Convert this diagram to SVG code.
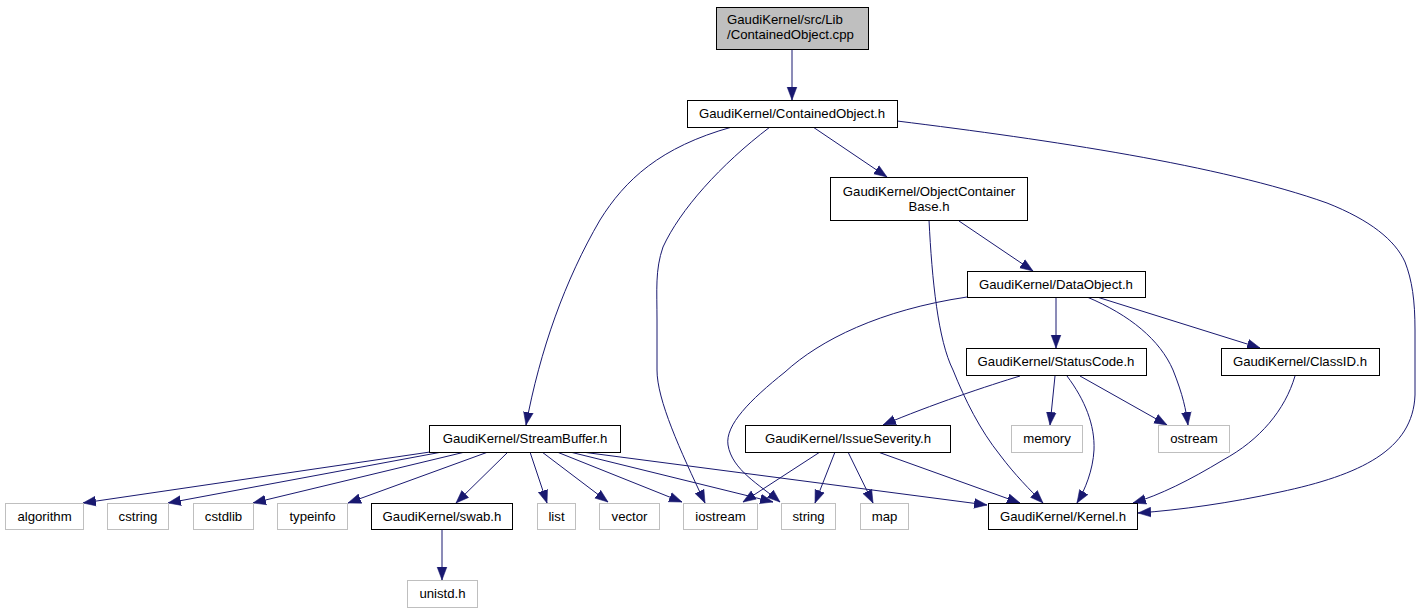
<svg xmlns="http://www.w3.org/2000/svg" width="1421" height="613" viewBox="0 0 1421 613">
<style>
.n rect{fill:#fff;stroke:#000;stroke-width:1}
.x rect{fill:#fff;stroke:#bfbfbf;stroke-width:1}
.r rect{fill:#bfbfbf;stroke:#000;stroke-width:1}
text{font-family:"Liberation Sans",Arial,sans-serif;font-size:13.2px;fill:#000;text-anchor:middle}
#edges path{fill:none;stroke:#191970;stroke-width:1;marker-end:url(#ah)}
</style>
<defs>
<marker id="ah" markerUnits="userSpaceOnUse" markerWidth="14" markerHeight="12" viewBox="0 -5 13 10" refX="12" refY="0" orient="auto">
<path d="M0,-4.5 L12,0 L0,4.5 z" fill="#191970" stroke="#191970" stroke-width="0.5"/>
</marker>
</defs>
<rect width="1421" height="613" fill="#fff"/>
<g id="edges">
<path d="M792,49 L792,100"/>
<path d="M732,127 C660,147 625,180 600,220 C565,280 540,350 526,425"/>
<path d="M770,127 C720,165 680,210 663,247 C655,270 657,290 657,320 L657,370 C657,400 680,450 705,503"/>
<path d="M813,127 L887,177"/>
<path d="M897,121 C1050,140 1220,165 1327,203 C1370,220 1395,240 1405,262 C1412,280 1415,300 1415,330 L1415,395 C1413,450 1360,475 1280,492 C1230,503 1180,510 1138,513"/>
<path d="M959,221 L1033,271"/>
<path d="M929,220 C932,280 938,340 953,370 C965,400 980,430 1000,455 C1015,475 1030,490 1043,503"/>
<path d="M1056,297 L1056,348"/>
<path d="M967,297 C880,310 820,340 785,372 C750,400 725,425 728,445 C732,470 760,485 780,502"/>
<path d="M1087,297 C1130,315 1160,340 1173,370 C1183,395 1186,410 1188,425"/>
<path d="M1097,297 L1260,348"/>
<path d="M1020,376 C990,385 930,405 883,425"/>
<path d="M1055,376 L1050,425"/>
<path d="M1067,376 C1085,400 1095,425 1094,450 C1093,470 1085,490 1077,503"/>
<path d="M1080,376 L1167,425"/>
<path d="M1295,376 C1285,410 1260,440 1223,460 C1190,480 1160,495 1133,503"/>
<path d="M820,452 L743,502"/>
<path d="M835,452 L815,503"/>
<path d="M848,452 L873,503"/>
<path d="M878,452 L1020,503"/>
<path d="M430,452 L83,503"/>
<path d="M442,452 L168,503"/>
<path d="M465,452 L253,503"/>
<path d="M488,452 L348,503"/>
<path d="M508,452 L456,503"/>
<path d="M442,529 L442,580"/>
<path d="M530,452 L547,503"/>
<path d="M542,452 L608,502"/>
<path d="M557,452 L682,502"/>
<path d="M570,452 L773,502"/>
<path d="M582,452 L987,505"/>
</g>
<g id="n_cpp" class="r"><rect x="716.5" y="7.5" width="152" height="42"/><text x="727" y="24" style="text-anchor:start">GaudiKernel/src/Lib</text><text x="727" y="39" style="text-anchor:start">/ContainedObject.cpp</text></g>
<g id="n_co" class="n"><rect x="687.5" y="100.5" width="210" height="27"/><text x="792" y="118">GaudiKernel/ContainedObject.h</text></g>
<g id="n_ocb" class="n"><rect x="830.5" y="177.5" width="197" height="43"/><text x="929" y="196">GaudiKernel/ObjectContainer</text><text x="929" y="211">Base.h</text></g>
<g id="n_do" class="n"><rect x="967.5" y="271.5" width="178" height="26"/><text x="1056" y="289">GaudiKernel/DataObject.h</text></g>
<g id="n_sc" class="n"><rect x="966.5" y="348.5" width="180" height="27"/><text x="1056" y="366">GaudiKernel/StatusCode.h</text></g>
<g id="n_cid" class="n"><rect x="1221.5" y="348.5" width="158" height="27"/><text x="1300" y="366">GaudiKernel/ClassID.h</text></g>
<g id="n_mem" class="x"><rect x="1011.5" y="425.5" width="71" height="27"/><text x="1047" y="443">memory</text></g>
<g id="n_ost" class="x"><rect x="1158.5" y="425.5" width="71" height="27"/><text x="1194" y="443">ostream</text></g>
<g id="n_ker" class="n"><rect x="988.5" y="503.5" width="149" height="26"/><text x="1063" y="521">GaudiKernel/Kernel.h</text></g>
<g id="n_sb" class="n"><rect x="429.5" y="425.5" width="191" height="27"/><text x="525" y="443">GaudiKernel/StreamBuffer.h</text></g>
<g id="n_is" class="n"><rect x="745.5" y="425.5" width="205" height="27"/><text x="848" y="443">GaudiKernel/IssueSeverity.h</text></g>
<g id="n_list" class="x"><rect x="537.5" y="503.5" width="38" height="26"/><text x="556.5" y="521">list</text></g>
<g id="n_vec" class="x"><rect x="599.5" y="503.5" width="60" height="26"/><text x="629.5" y="521">vector</text></g>
<g id="n_ios" class="x"><rect x="683.5" y="503.5" width="74" height="26"/><text x="720.5" y="521">iostream</text></g>
<g id="n_str" class="x"><rect x="781.5" y="503.5" width="54" height="26"/><text x="808.5" y="521">string</text></g>
<g id="n_map" class="x"><rect x="860.5" y="503.5" width="48" height="26"/><text x="884.5" y="521">map</text></g>
<g id="n_alg" class="x"><rect x="5.5" y="503.5" width="78" height="26"/><text x="44.5" y="521">algorithm</text></g>
<g id="n_cstr" class="x"><rect x="107.5" y="503.5" width="61" height="26"/><text x="138" y="521">cstring</text></g>
<g id="n_cstd" class="x"><rect x="193.5" y="503.5" width="60" height="26"/><text x="223.5" y="521">cstdlib</text></g>
<g id="n_ti" class="x"><rect x="277.5" y="503.5" width="70" height="26"/><text x="312.5" y="521">typeinfo</text></g>
<g id="n_swab" class="n"><rect x="371.5" y="503.5" width="141" height="26"/><text x="442" y="521">GaudiKernel/swab.h</text></g>
<g id="n_uni" class="x"><rect x="407.5" y="580.5" width="70" height="27"/><text x="442.5" y="598">unistd.h</text></g>
</svg>
